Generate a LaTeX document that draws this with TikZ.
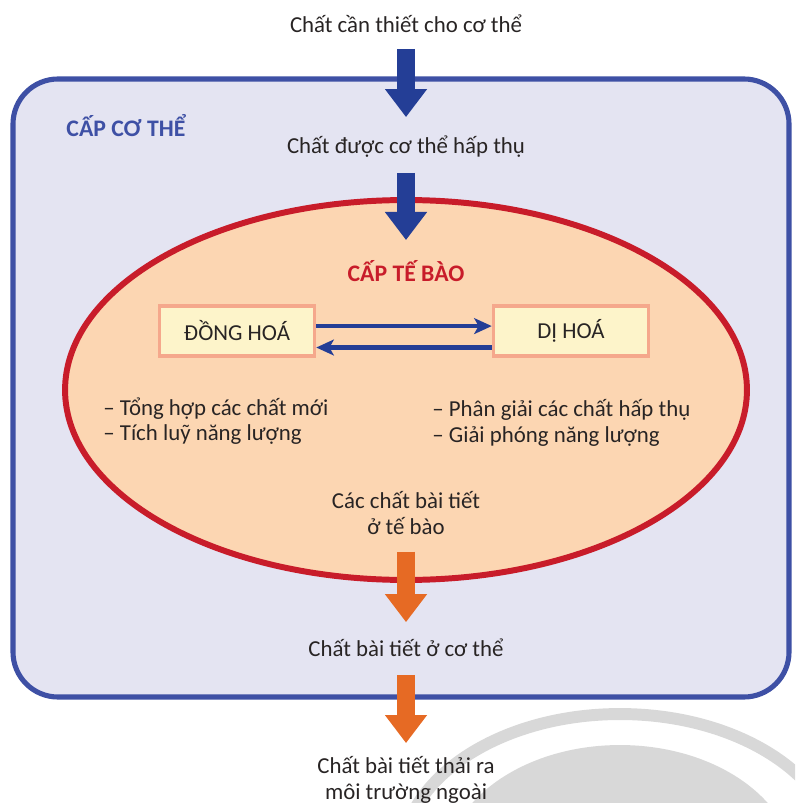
\documentclass[tikz,border=0pt]{standalone}
\usepackage{fontspec}
\setmainfont{Carlito}
\usepackage{tikz}
\usetikzlibrary{arrows.meta,positioning}

\definecolor{cothe}{RGB}{62,80,165}
\definecolor{cothebg}{RGB}{228,228,242}
\definecolor{tebao}{RGB}{200,28,42}
\definecolor{tebaobg}{RGB}{252,214,178}
\definecolor{hoabg}{RGB}{253,244,202}
\definecolor{hoaline}{RGB}{245,168,140}
\definecolor{muiten}{RGB}{36,62,150}
\definecolor{cam}{RGB}{230,106,36}
\definecolor{chu}{RGB}{40,36,36}
\definecolor{mo}{RGB}{216,216,216}

\begin{document}
\begin{tikzpicture}[x=0.02cm,y=-0.02cm,
  txt/.style={text=chu,font=\fontsize{13}{14.5}\selectfont,align=center,inner sep=0pt},
  hd/.style={font=\bfseries\fontsize{13.5}{15}\selectfont,inner sep=0pt},
  hoa/.style={draw=hoaline,fill=hoabg,line width=2pt,minimum width=3.1cm,minimum height=1cm,
    text=chu,font=\fontsize{13}{15}\selectfont},
  xanh/.style={muiten,line width=10.5pt,-{Triangle[length=16pt,width=23pt]}},
  vang/.style={cam,line width=10.5pt,-{Triangle[length=16pt,width=23pt]}},
  nho/.style={muiten,line width=2.3pt,-{Stealth[length=10pt,width=9pt,inset=2.5pt]}}]
  \useasboundingbox (0,0) rectangle (795,803);
  % watermark
  \begin{scope}
    \clip (0,0) rectangle (795,803);
    \fill[mo] (620,870) ellipse (3.5cm and 2.5cm);
    \draw[mo,line width=6.8pt] (620,860) ellipse (4.38cm and 2.92cm);
  \end{scope}
  % cap co the / cap te bao
  \filldraw[fill=cothebg,draw=cothe,line width=2.9pt,rounded corners=0.9cm] (13,79) rectangle (789,697);
  \filldraw[fill=tebaobg,draw=tebao,line width=3.4pt] (406,390) ellipse [x radius=6.82cm,y radius=3.8cm];

  \node[txt] (vao) at (406,24) {Chất cần thiết cho cơ thể};
  \node[txt] (hapthu) at (406,147) {Chất được cơ thể hấp thụ};
  \node[hd,text=cothe] (capcothe) at (126,126) {CẤP CƠ THỂ};
  \node[hd,text=tebao] (captebao) at (406,271) {CẤP TẾ BÀO};
  \node[hoa] (dong) at (237,331) {ĐỒNG HOÁ};
  \node[hoa] (di) at (571,331) {DỊ HOÁ};
  \node[txt,anchor=west,align=left] (trai) at (103,421) {– Tổng hợp các chất mới\\– Tích luỹ năng lượng};
  \node[txt,anchor=west,align=left] (phai) at (432,423) {– Phân giải các chất hấp thụ\\– Giải phóng năng lượng};
  \node[txt] (baitiet) at (406,513) {Các chất bài tiết\\ở tế bào};
  \node[txt] (racothe) at (406,648) {Chất bài tiết ở cơ thể};
  \node[txt] (ngoai) at (406,780) {Chất bài tiết thải ra\\môi trường ngoài};

  \draw[xanh,shorten <=14.2pt,shorten >=17pt] (vao.center) -- (hapthu.center);
  \draw[xanh,shorten <=14.7pt,shorten >=17.6pt] (hapthu.center) -- (captebao.center);
  \draw[nho] ([yshift=2.8pt]dong.east) -- ([yshift=2.8pt]di.west);
  \draw[nho] ([yshift=-9.4pt]di.west) -- ([yshift=-9.4pt]dong.east);
  \draw[vang,shorten <=22pt,shorten >=14.7pt] (baitiet.center) -- (racothe.center);
  \draw[vang,shorten <=15.3pt,shorten >=21pt] (racothe.center) -- (ngoai.center);
\end{tikzpicture}
\end{document}
